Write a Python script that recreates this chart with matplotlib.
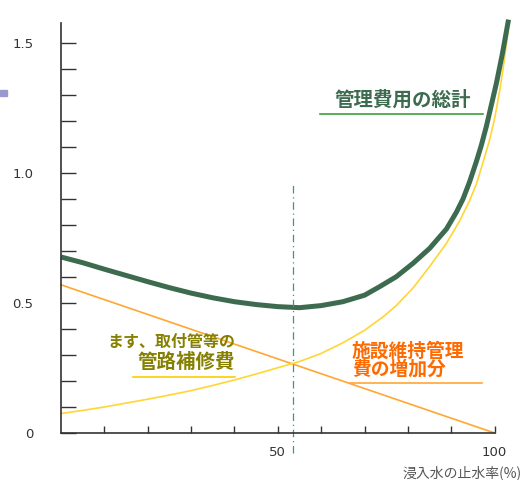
import matplotlib.pyplot as plt
from matplotlib.patches import Rectangle

plt.rcParams["font.family"] = ["Noto Sans CJK JP", "DejaVu Sans"]

# Total management cost (thick green)
total_x = [0, 5, 10, 15, 20, 25, 30, 35, 40, 45, 50, 55, 60, 65, 70, 73.5, 77.3,
           81.2, 85, 88.9, 91.2, 92.7, 94.2, 95.8, 96.9, 98.1, 100.4, 101.8, 103.2]
total_y = [0.677, 0.655, 0.63, 0.606, 0.582, 0.559, 0.538, 0.52, 0.505, 0.494,
           0.486, 0.482, 0.49, 0.505, 0.53, 0.563, 0.601, 0.653, 0.71, 0.785,
           0.85, 0.90, 0.965, 1.045, 1.105, 1.18, 1.345, 1.46, 1.59]

# Facility maintenance cost increase (yellow)
facility_x = [0, 5, 10, 15, 20, 25, 30, 35, 40, 45, 50, 55, 60, 65, 70, 74.3, 77.3,
              81.2, 85, 88.9, 91.9, 94.2, 95.8, 97.3, 98.8, 100, 101.2, 102.2, 103.1]
facility_y = [0.075, 0.087, 0.10, 0.115, 0.13, 0.146, 0.163, 0.183, 0.204, 0.227,
              0.251, 0.275, 0.306, 0.347, 0.395, 0.447, 0.490, 0.558, 0.64, 0.73,
              0.815, 0.893, 0.958, 1.04, 1.125, 1.21, 1.32, 1.43, 1.55]

# Pipe repair cost (orange)
repair_x = [0, 100]
repair_y = [0.57, 0.0]

optimum_x = 53.5
y_ticks = [0, 0.5, 1.0, 1.5]
y_tick_labels = ["0", "0.5", "1.0", "1.5"]
x_ticks = [10, 20, 30, 40, 50, 60, 70, 80, 90, 100]
x_tick_labels = ["", "", "", "", "50", "", "", "", "", "100"]

fig = plt.figure(figsize=(5.23, 4.80), dpi=100)
ax = fig.add_axes([61 / 523, 47 / 480, 451 / 523, 416 / 480])

ax.plot(repair_x, repair_y, color="#ffa733", lw=1.2, clip_on=False)
ax.plot(facility_x, facility_y, color="#ffd633", lw=1.2, clip_on=False,
        solid_joinstyle="round")
ax.plot(total_x, total_y, color="#3d6b4f", lw=3.6, clip_on=False,
        solid_capstyle="butt", solid_joinstyle="round")
ax.plot([optimum_x, optimum_x], [-0.077, 0.954], color="#3a9a70", lw=0.9,
        ls=(0, (6, 3, 1, 3)), clip_on=False)

ax.set_xlim(0, 104)
ax.set_ylim(0, 1.6)
for s in ["top", "right"]:
    ax.spines[s].set_visible(False)
ax.spines["left"].set_bounds(0, 1.577)
ax.spines["bottom"].set_bounds(0, 100)
for s in ["left", "bottom"]:
    ax.spines[s].set_color("#333333")
    ax.spines[s].set_linewidth(1.2)

minor_y = [round(i / 10, 1) for i in range(0, 16)]
ax.set_yticks(minor_y)
ax.set_yticklabels([y_tick_labels[y_ticks.index(t)] if t in y_ticks else "" for t in minor_y])
ax.tick_params(axis="y", direction="in", length=11, width=1, color="#333333",
               pad=20, labelsize=9.5, labelcolor="#333333")
ax.set_xticks(x_ticks)
ax.set_xticklabels(x_tick_labels)
ax.tick_params(axis="x", direction="in", length=5, width=1, color="#333333",
               pad=9, labelsize=9.5, labelcolor="#333333")
for lab in ax.get_yticklabels() + ax.get_xticklabels():
    lab.set_family("DejaVu Sans")

# Labels
ax.text(78.8, 1.281, "管理費用の総計", color="#3d6b4f", fontsize=14, fontweight="bold",
        ha="center", va="center")
ax.plot([59.7, 97.2], [1.227, 1.227], color="#3aa03a", lw=1.2)

ax.text(40.1, 0.35, "ます、取付管等の", color="#858000", fontsize=11.5, fontweight="bold",
        ha="right", va="center")
ax.text(40.1, 0.273, "管路補修費", color="#858000", fontsize=14, fontweight="bold",
        ha="right", va="center")
ax.plot([16.6, 40.1], [0.215, 0.215], color="#ffcc00", lw=1.2)

ax.text(67.1, 0.315, "施設維持管理", color="#ff6a00", fontsize=13.5, fontweight="bold",
        ha="left", va="center")
ax.text(67.1, 0.246, "費の増加分", color="#ff6a00", fontsize=13.5, fontweight="bold",
        ha="left", va="center")
ax.plot([66.6, 97.0], [0.192, 0.192], color="#ffa733", lw=1.2)

fig.text(0.998, 1 - 473 / 480, "浸入水の止水率(%)", color="#555555", fontsize=10,
         ha="right", va="center")

fig.patches.append(Rectangle((0, 1 - 96 / 480), 7 / 523, 6 / 480,
                             transform=fig.transFigure, color="#9999cc"))

fig.savefig("out.png", dpi=100)
